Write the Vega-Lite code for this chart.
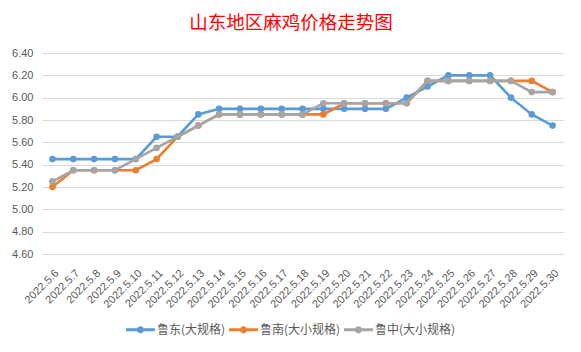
{
  "$schema": "https://vega.github.io/schema/vega-lite/v6.json",
  "autosize": "none",
  "width": 521,
  "height": 201,
  "padding": {"left": 42, "top": 53, "right": 18, "bottom": 98},
  "background": "white",
  "title": {
    "text": "山东地区麻鸡价格走势图",
    "color": "#FF0000",
    "font": "Noto Sans CJK SC",
    "fontSize": 18.5,
    "fontWeight": "normal",
    "anchor": "middle",
    "baseline": "bottom",
    "offset": -4,
    "dx": -11.5
  },
  "config": {
    "view": {"stroke": null},
    "axis": {
      "labelFont": "Liberation Sans",
      "labelFontSize": 11,
      "labelColor": "#595959",
      "ticks": false,
      "tickSize": 0,
      "domain": false,
      "gridColor": "#D9D9D9",
      "gridWidth": 1
    }
  },
  "data": {
    "values": [
      {"date": "2022.5.6", "series": "鲁东(大规格)", "price": 5.45},
      {"date": "2022.5.7", "series": "鲁东(大规格)", "price": 5.45},
      {"date": "2022.5.8", "series": "鲁东(大规格)", "price": 5.45},
      {"date": "2022.5.9", "series": "鲁东(大规格)", "price": 5.45},
      {"date": "2022.5.10", "series": "鲁东(大规格)", "price": 5.45},
      {"date": "2022.5.11", "series": "鲁东(大规格)", "price": 5.65},
      {"date": "2022.5.12", "series": "鲁东(大规格)", "price": 5.65},
      {"date": "2022.5.13", "series": "鲁东(大规格)", "price": 5.85},
      {"date": "2022.5.14", "series": "鲁东(大规格)", "price": 5.9},
      {"date": "2022.5.15", "series": "鲁东(大规格)", "price": 5.9},
      {"date": "2022.5.16", "series": "鲁东(大规格)", "price": 5.9},
      {"date": "2022.5.17", "series": "鲁东(大规格)", "price": 5.9},
      {"date": "2022.5.18", "series": "鲁东(大规格)", "price": 5.9},
      {"date": "2022.5.19", "series": "鲁东(大规格)", "price": 5.9},
      {"date": "2022.5.20", "series": "鲁东(大规格)", "price": 5.9},
      {"date": "2022.5.21", "series": "鲁东(大规格)", "price": 5.9},
      {"date": "2022.5.22", "series": "鲁东(大规格)", "price": 5.9},
      {"date": "2022.5.23", "series": "鲁东(大规格)", "price": 6.0},
      {"date": "2022.5.24", "series": "鲁东(大规格)", "price": 6.1},
      {"date": "2022.5.25", "series": "鲁东(大规格)", "price": 6.2},
      {"date": "2022.5.26", "series": "鲁东(大规格)", "price": 6.2},
      {"date": "2022.5.27", "series": "鲁东(大规格)", "price": 6.2},
      {"date": "2022.5.28", "series": "鲁东(大规格)", "price": 6.0},
      {"date": "2022.5.29", "series": "鲁东(大规格)", "price": 5.85},
      {"date": "2022.5.30", "series": "鲁东(大规格)", "price": 5.75},
      {"date": "2022.5.6", "series": "鲁南(大小规格)", "price": 5.2},
      {"date": "2022.5.7", "series": "鲁南(大小规格)", "price": 5.35},
      {"date": "2022.5.8", "series": "鲁南(大小规格)", "price": 5.35},
      {"date": "2022.5.9", "series": "鲁南(大小规格)", "price": 5.35},
      {"date": "2022.5.10", "series": "鲁南(大小规格)", "price": 5.35},
      {"date": "2022.5.11", "series": "鲁南(大小规格)", "price": 5.45},
      {"date": "2022.5.12", "series": "鲁南(大小规格)", "price": 5.65},
      {"date": "2022.5.13", "series": "鲁南(大小规格)", "price": 5.75},
      {"date": "2022.5.14", "series": "鲁南(大小规格)", "price": 5.85},
      {"date": "2022.5.15", "series": "鲁南(大小规格)", "price": 5.85},
      {"date": "2022.5.16", "series": "鲁南(大小规格)", "price": 5.85},
      {"date": "2022.5.17", "series": "鲁南(大小规格)", "price": 5.85},
      {"date": "2022.5.18", "series": "鲁南(大小规格)", "price": 5.85},
      {"date": "2022.5.19", "series": "鲁南(大小规格)", "price": 5.85},
      {"date": "2022.5.20", "series": "鲁南(大小规格)", "price": 5.95},
      {"date": "2022.5.21", "series": "鲁南(大小规格)", "price": 5.95},
      {"date": "2022.5.22", "series": "鲁南(大小规格)", "price": 5.95},
      {"date": "2022.5.23", "series": "鲁南(大小规格)", "price": 5.95},
      {"date": "2022.5.24", "series": "鲁南(大小规格)", "price": 6.15},
      {"date": "2022.5.25", "series": "鲁南(大小规格)", "price": 6.15},
      {"date": "2022.5.26", "series": "鲁南(大小规格)", "price": 6.15},
      {"date": "2022.5.27", "series": "鲁南(大小规格)", "price": 6.15},
      {"date": "2022.5.28", "series": "鲁南(大小规格)", "price": 6.15},
      {"date": "2022.5.29", "series": "鲁南(大小规格)", "price": 6.15},
      {"date": "2022.5.30", "series": "鲁南(大小规格)", "price": 6.05},
      {"date": "2022.5.6", "series": "鲁中(大小规格)", "price": 5.25},
      {"date": "2022.5.7", "series": "鲁中(大小规格)", "price": 5.35},
      {"date": "2022.5.8", "series": "鲁中(大小规格)", "price": 5.35},
      {"date": "2022.5.9", "series": "鲁中(大小规格)", "price": 5.35},
      {"date": "2022.5.10", "series": "鲁中(大小规格)", "price": 5.45},
      {"date": "2022.5.11", "series": "鲁中(大小规格)", "price": 5.55},
      {"date": "2022.5.12", "series": "鲁中(大小规格)", "price": 5.65},
      {"date": "2022.5.13", "series": "鲁中(大小规格)", "price": 5.75},
      {"date": "2022.5.14", "series": "鲁中(大小规格)", "price": 5.85},
      {"date": "2022.5.15", "series": "鲁中(大小规格)", "price": 5.85},
      {"date": "2022.5.16", "series": "鲁中(大小规格)", "price": 5.85},
      {"date": "2022.5.17", "series": "鲁中(大小规格)", "price": 5.85},
      {"date": "2022.5.18", "series": "鲁中(大小规格)", "price": 5.85},
      {"date": "2022.5.19", "series": "鲁中(大小规格)", "price": 5.95},
      {"date": "2022.5.20", "series": "鲁中(大小规格)", "price": 5.95},
      {"date": "2022.5.21", "series": "鲁中(大小规格)", "price": 5.95},
      {"date": "2022.5.22", "series": "鲁中(大小规格)", "price": 5.95},
      {"date": "2022.5.23", "series": "鲁中(大小规格)", "price": 5.95},
      {"date": "2022.5.24", "series": "鲁中(大小规格)", "price": 6.15},
      {"date": "2022.5.25", "series": "鲁中(大小规格)", "price": 6.15},
      {"date": "2022.5.26", "series": "鲁中(大小规格)", "price": 6.15},
      {"date": "2022.5.27", "series": "鲁中(大小规格)", "price": 6.15},
      {"date": "2022.5.28", "series": "鲁中(大小规格)", "price": 6.15},
      {"date": "2022.5.29", "series": "鲁中(大小规格)", "price": 6.05},
      {"date": "2022.5.30", "series": "鲁中(大小规格)", "price": 6.05}
    ]
  },
  "encoding": {
    "x": {
      "field": "date",
      "type": "ordinal",
      "sort": null,
      "scale": {"type": "point", "padding": 0.5},
      "axis": {"title": null, "labelAngle": -45, "labelPadding": 13, "grid": false}
    },
    "y": {
      "field": "price",
      "type": "quantitative",
      "scale": {"domain": [4.6, 6.4], "nice": false, "zero": false},
      "axis": {
        "title": null,
        "values": [4.6, 4.8, 5.0, 5.2, 5.4, 5.6, 5.8, 6.0, 6.2, 6.4],
        "format": ".2f",
        "labelPadding": 9,
        "grid": true
      }
    },
    "color": {
      "field": "series",
      "type": "nominal",
      "sort": ["鲁东(大规格)", "鲁南(大小规格)", "鲁中(大小规格)"],
      "scale": {
        "domain": ["鲁东(大规格)", "鲁南(大小规格)", "鲁中(大小规格)"],
        "range": ["#5B9BD5", "#ED7D31", "#A5A5A5"]
      },
      "legend": {
        "title": null,
        "orient": "none",
        "direction": "horizontal",
        "legendX": 84,
        "legendY": 262,
        "padding": 0,
        "symbolType": "M-1,-0.1 H1 V0.1 H-1 Z M0.25,0 A0.25,0.25 0 1 1 -0.25,0 A0.25,0.25 0 1 1 0.25,0 Z",
        "symbolSize": 841,
        "symbolStrokeWidth": 0,
        "symbolOpacity": 1,
        "labelFont": "Noto Sans CJK SC",
        "labelFontSize": 12,
        "labelColor": "#595959",
        "labelOffset": 2,
        "columnPadding": 3,
        "encode": {
          "symbols": {"update": {"fill": {"scale": "color", "field": "value"}, "opacity": {"value": 1}}}
        }
      }
    }
  },
  "layer": [
    {
      "transform": [{"filter": "datum.series === '鲁东(大规格)'"}],
      "mark": {"type": "line", "strokeWidth": 2.6, "point": {"filled": true, "size": 44, "opacity": 1}}
    },
    {
      "transform": [{"filter": "datum.series === '鲁南(大小规格)'"}],
      "mark": {"type": "line", "strokeWidth": 2.6, "point": {"filled": true, "size": 44, "opacity": 1}}
    },
    {
      "transform": [{"filter": "datum.series === '鲁中(大小规格)'"}],
      "mark": {"type": "line", "strokeWidth": 2.6, "point": {"filled": true, "size": 44, "opacity": 1}}
    }
  ]
}
